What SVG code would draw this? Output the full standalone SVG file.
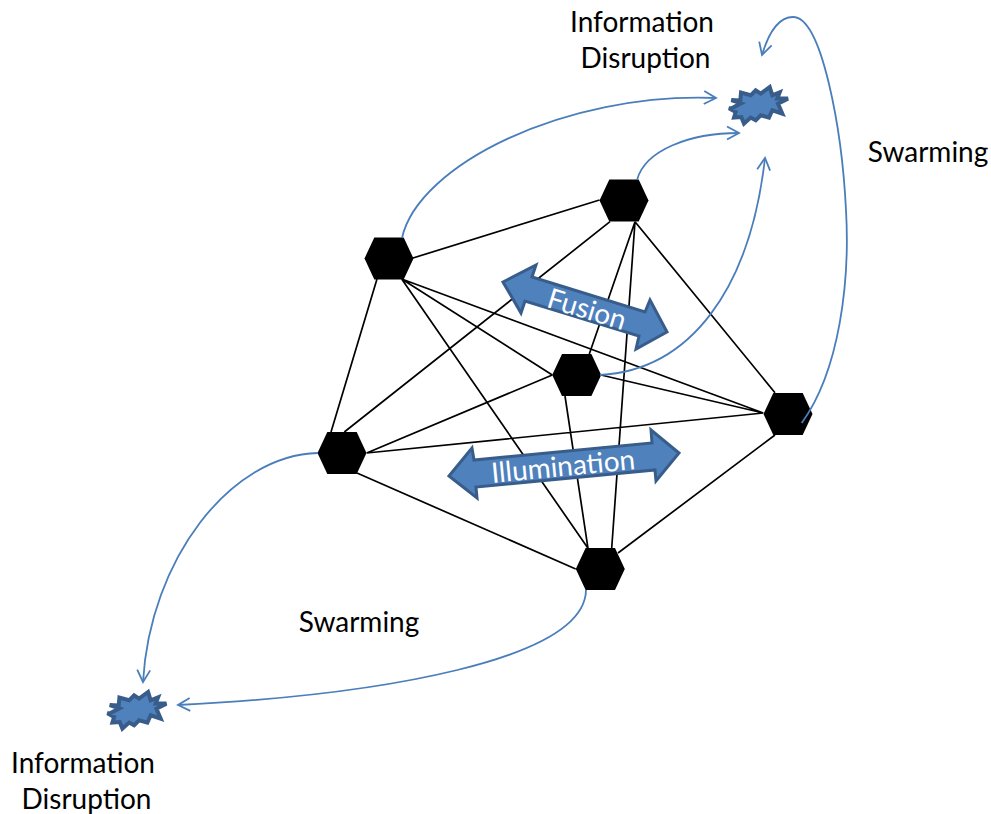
<svg xmlns="http://www.w3.org/2000/svg" width="991" height="814" viewBox="0 0 991 814">
<style>
text{font-family:"Lato","Open Sans",sans-serif;font-size:28px;fill:#000;text-anchor:middle}
.e{stroke:#000;stroke-width:1.7;fill:none}
.c{stroke:#4a7ebb;stroke-width:1.8;fill:none;marker-end:url(#a)}
.h{fill:#000}
.b{fill:#4f81bd;stroke:#385d8a;stroke-width:3;stroke-linejoin:miter}
.s{fill:#4f81bd;stroke:#385d8a;stroke-width:4;stroke-linejoin:miter}
.w{fill:#fff}
</style>
<defs>
<marker id="a" markerUnits="userSpaceOnUse" markerWidth="20" markerHeight="20" refX="13" refY="7" orient="auto" overflow="visible"><path d="M1,0.500L13,7L1,13.500" fill="none" stroke="#4a7ebb" stroke-width="1.8"/></marker>
<polygon id="hex" points="-24.500,0 -14.700,-21 14.700,-21 24.500,0 14.700,21 -14.700,21"/>
<polygon id="burst" points="2.700,0 12,-5 2.300,-8.300 11.300,-7.700 12,-15.700 21.700,-13 26.700,-18 31.700,-14.700 40.700,-21.300 43.300,-13 50.700,-16 48.300,-9.700 59,-9.700 49,-4.700 53.300,5.300 43.300,2 40,9.300 31.700,7 26.700,12 21.700,9.300 15,15.300 12.300,8.700 5,9.300 6.700,3.700 0,0"/>
</defs>
<g id="node1"><use href="#hex" x="624" y="200.500" class="h"/></g>
<g id="node2"><use href="#hex" x="389" y="258.500" class="h"/></g>
<g id="node3"><use href="#hex" x="576.700" y="375" class="h"/></g>
<g id="node4"><use href="#hex" x="788" y="414" class="h"/></g>
<g id="node5"><use href="#hex" x="342" y="453" class="h"/></g>
<g id="node6"><use href="#hex" x="600.300" y="569" class="h"/></g>
<g id="burst1"><use href="#burst" x="729" y="108.300" class="s"/></g>
<g id="burst2"><use href="#burst" x="107.400" y="713.300" class="s"/></g>
<g id="connectors">
<path class="e" d="M413,258L599.500,200M377,279L331,432M401.700,279L552.300,375M401.700,279L763.300,413M401.700,279L588,548.300M610,221.700L344.300,432M635,221.700L589.300,354M635,221.700L611.700,548.300M635,221.700L775,392.700M552.300,375L366.700,453M601,375L763.300,413M565,396L588,548.300M366.700,453L763.300,413M357,473L575.700,569M775,435L618,553"/>
<path class="c" d="M402,238C418,165 565,92 716,98"/>
<path class="c" d="M637,180C645,150 690,133 739,133"/>
<path class="c" d="M600,375C690,370 750,290 765,158"/>
<path class="c" d="M801.700,423C840,370 850,280 846,210C842,130 822,17 793,17C778,17 768,35 762,55"/>
<path class="c" d="M318,453C230,455 150,560 143,682"/>
<path class="c" d="M586,590C585,660 380,695 178,705"/>
</g>
<g id="fusion">
<polygon class="b" points="503,282 536,265 532,277 645,312 650,300 667,332 636,349 639,336 525,301 521,313"/>
<text class="w" transform="translate(584,318.500) rotate(17)">Fusion</text>
</g>
<g id="illumination">
<polygon class="b" points="449,476 472,448 474,460 652,443 651,430 679,453 656,481 655,470 476,487 477,498"/>
<text class="w" transform="translate(564,476) rotate(-5.500)">Illumination</text>
</g>
<g id="labels">
<text x="642" y="32">Information</text>
<text x="645.500" y="68">Disruption</text>
<text x="928" y="162">Swarming</text>
<text x="359" y="632">Swarming</text>
<text x="83" y="773">Information</text>
<text x="86.500" y="809">Disruption</text>
</g>
</svg>
